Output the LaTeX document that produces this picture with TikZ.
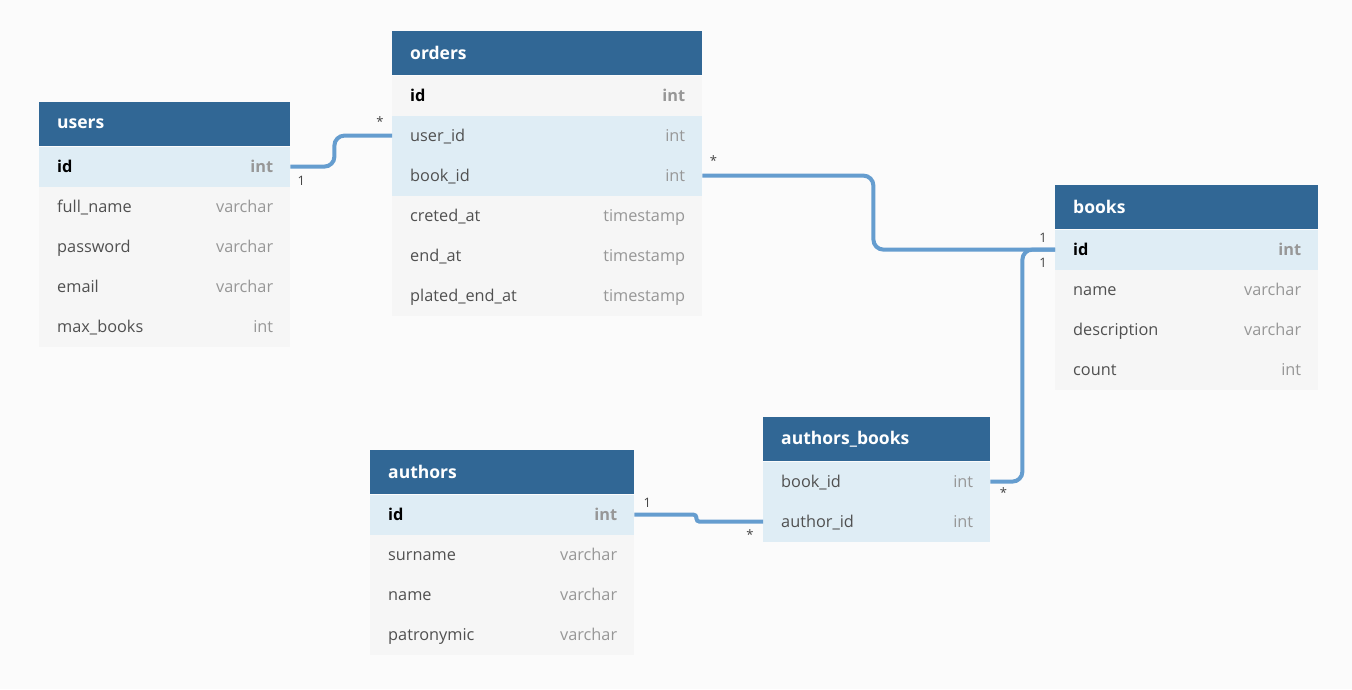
\documentclass[tikz,border=0pt]{standalone}
\usepackage{fontspec}
\setmainfont{Open Sans}
\usetikzlibrary{calc}

\definecolor{bgcolor}{HTML}{FBFBFB}
\definecolor{headblue}{HTML}{316795}
\definecolor{rowblue}{HTML}{DFEDF5}
\definecolor{rowgray}{HTML}{F6F6F6}
\definecolor{fieldgray}{HTML}{505050}
\definecolor{typegray}{HTML}{979797}
\definecolor{linkblue}{HTML}{659DCF}
\definecolor{cardgray}{HTML}{444444}

\tikzset{
  header/.style={fill=headblue, text=white, anchor=north west, minimum height=44,
    inner xsep=18, inner ysep=0, align=left, font=\fontsize{17.5}{20}\selectfont\bfseries},
  row/.style={anchor=north west, minimum height=40, inner sep=0},
  colfield/.style={anchor=base west, inner sep=0, text=fieldgray, font=\fontsize{16.3}{19}\selectfont},
  coltype/.style={anchor=base east, inner sep=0, text=typegray, font=\fontsize{16.3}{19}\selectfont},
  keyfield/.style={anchor=base west, inner sep=0, text=black, font=\fontsize{16.3}{19}\selectfont\bfseries},
  keytype/.style={anchor=base east, inner sep=0, text=typegray, font=\fontsize{16.3}{19}\selectfont\bfseries},
  link/.style={draw=linkblue, line width=4, rounded corners=10},
  card/.style={inner sep=0, text=cardgray, font=\fontsize{13}{15}\selectfont}
}

\begin{document}
\begin{tikzpicture}[x=1pt, y=-1pt]
  % 1. Background
  \fill[bgcolor] (0,0) rectangle (1352,689);
  \useasboundingbox (0,0) rectangle (1352,689);

  % 2. Tables
  % users
  \node[header, text width=215] (users) at (39,102) {users};
  \foreach \f/\t/\c/\k [count=\i from 0] in {id/int/rowblue/key, full\_name/varchar/rowgray/col,
      password/varchar/rowgray/col, email/varchar/rowgray/col, max\_books/int/rowgray/col} {
    \node[row, fill=\c, minimum width=251] (users-\i) at ($(users.south west)+(0,40*\i)$) {};
    \node[\k field] (users-\i-f) at ($(users-\i.west)+(18,6)$) {\f};
    \node[\k type] (users-\i-t) at ($(users-\i.east)+(-17,6)$) {\t};
  }

  % orders
  \node[header, text width=274] (orders) at (392,31) {orders};
  \foreach \f/\t/\c/\k [count=\i from 0] in {id/int/rowgray/key, user\_id/int/rowblue/col,
      book\_id/int/rowblue/col, creted\_at/timestamp/rowgray/col, end\_at/timestamp/rowgray/col,
      plated\_end\_at/timestamp/rowgray/col} {
    \node[row, fill=\c, minimum width=310] (orders-\i) at ($(orders.south west)+(0,40*\i)$) {};
    \node[\k field] (orders-\i-f) at ($(orders-\i.west)+(18,6)$) {\f};
    \node[\k type] (orders-\i-t) at ($(orders-\i.east)+(-17,6)$) {\t};
  }

  % books
  \node[header, text width=227] (books) at (1055,185) {books};
  \foreach \f/\t/\c/\k [count=\i from 0] in {id/int/rowblue/key, name/varchar/rowgray/col,
      description/varchar/rowgray/col, count/int/rowgray/col} {
    \node[row, fill=\c, minimum width=263] (books-\i) at ($(books.south west)+(0,40*\i)$) {};
    \node[\k field] (books-\i-f) at ($(books-\i.west)+(18,6)$) {\f};
    \node[\k type] (books-\i-t) at ($(books-\i.east)+(-17,6)$) {\t};
  }

  % authors_books
  \node[header, text width=191] (ab) at (763,417) {authors\_books};
  \foreach \f/\t/\c/\k [count=\i from 0] in {book\_id/int/rowblue/col, author\_id/int/rowblue/col} {
    \node[row, fill=\c, minimum width=227] (ab-\i) at ($(ab.south west)+(0,40*\i)$) {};
    \node[\k field] (ab-\i-f) at ($(ab-\i.west)+(18,6)$) {\f};
    \node[\k type] (ab-\i-t) at ($(ab-\i.east)+(-17,6)$) {\t};
  }

  % authors
  \node[header, text width=228] (authors) at (370,450) {authors};
  \foreach \f/\t/\c/\k [count=\i from 0] in {id/int/rowblue/key, surname/varchar/rowgray/col,
      name/varchar/rowgray/col, patronymic/varchar/rowgray/col} {
    \node[row, fill=\c, minimum width=264] (authors-\i) at ($(authors.south west)+(0,40*\i)$) {};
    \node[\k field] (authors-\i-f) at ($(authors-\i.west)+(18,6)$) {\f};
    \node[\k type] (authors-\i-t) at ($(authors-\i.east)+(-17,6)$) {\t};
  }

  % 3. Relations
  \draw[link] (users-0.east) -- ++(44,0) |- (orders-1.west);
  \draw[link] (orders-2.east) -- ++(171,0) |- (books-0.west);
  \draw[link] (ab-0.east) -- ++(32,0) |- (books-0.west);
  \draw[link, rounded corners=3] (authors-0.east) -- ++(62,0) |- (ab-1.west);

  % 4. Cardinalities
  \node[card] (c-users) at ($(users-0.east)+(11,14)$) {1};
  \node[card] (c-orders-u) at ($(orders-1.west)+(-12,-14)$) {*};
  \node[card] (c-orders-b) at ($(orders-2.east)+(11,-15)$) {*};
  \node[card] (c-books-o) at ($(books-0.west)+(-12,-12)$) {1};
  \node[card] (c-books-a) at ($(books-0.west)+(-12,13)$) {1};
  \node[card] (c-ab-b) at ($(ab-0.east)+(13,11)$) {*};
  \node[card] (c-authors) at ($(authors-0.east)+(13,-12)$) {1};
  \node[card] (c-ab-a) at ($(ab-1.west)+(-13,13)$) {*};
\end{tikzpicture}
\end{document}
